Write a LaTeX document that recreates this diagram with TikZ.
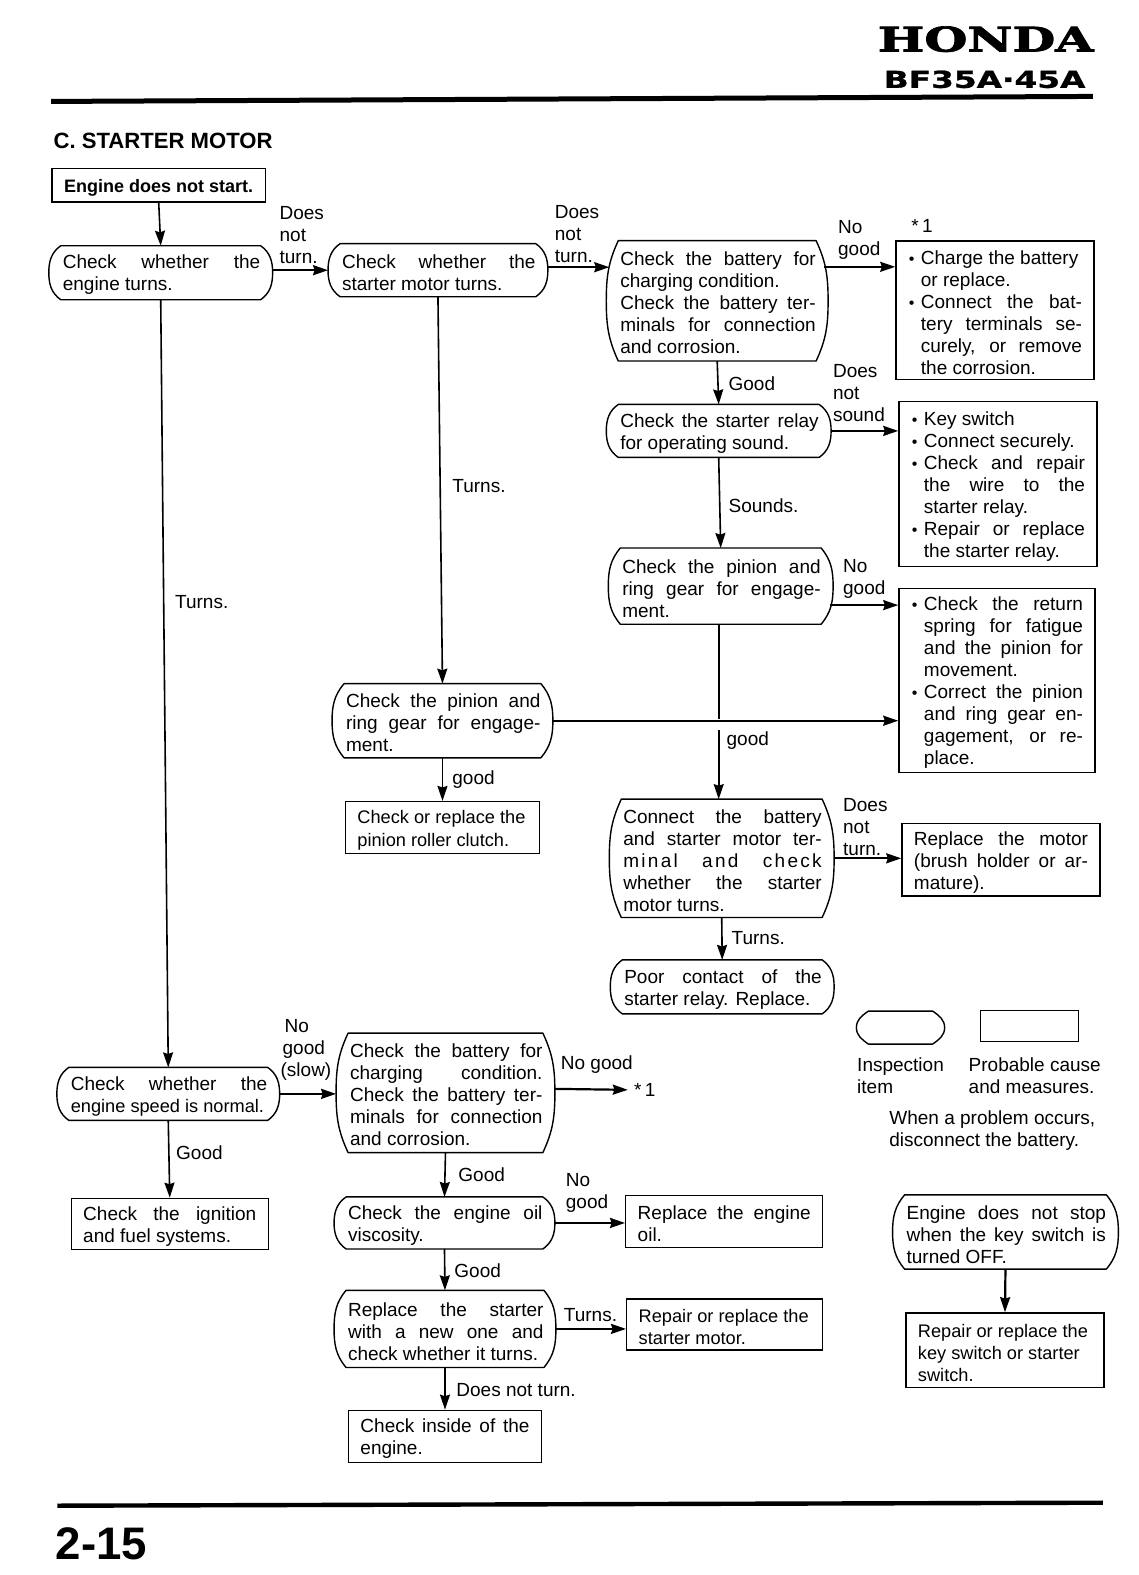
\documentclass[tikz,border=0pt]{standalone}
\usepackage{fontspec}
\setmainfont{Liberation Sans}
\newfontfamily\hondafont[FakeBold=2]{DejaVu Serif}
\newfontfamily\modelfont[FakeBold=1]{DejaVu Sans}
\usetikzlibrary{arrows.meta,calc}
\newcommand{\bulletitem}{\leavevmode\hspace*{-6.5pt}\makebox[6.5pt][l]{\hspace*{0.5pt}{\footnotesize\textbullet}}}
\newcommand{\bulletmargin}{\leftskip=6.5pt\relax}
\newcommand{\tightfont}{\fontsize{9.1pt}{11pt}\selectfont}

\begin{document}
\begin{tikzpicture}[
    x=0.5022pt, y=-0.5022pt,
    >=Stealth,
    bodytext/.style={
        font=\fontsize{9.5pt}{11pt}\selectfont, text=black
    },
    sidetext/.style={
        bodytext, anchor=west, inner sep=0pt, align=left, yshift=-0.5pt
    },
    cause/.style={
        rectangle, draw=black, line width=0.7pt, bodytext,
        align=justify, inner xsep=6pt, inner ysep=1pt,
        execute at begin node={\leavevmode\rule{0pt}{9.2pt}}
    },
    inspect/.style={
        rectangle, bodytext,
        align=justify, inner xsep=6pt, inner ysep=1pt,
        execute at begin node={\leavevmode\rule{0pt}{9.2pt}\leftskip=0.8pt\relax},
        append after command={\pgfextra{\let\LN\tikzlastnode
            \draw[line width=0.7pt, line join=round]
                ($(\LN.north west)+(6pt,0)$) -- ($(\LN.north east)+(-6pt,0)$)
                to[out=-#1, in=90] (\LN.east)
                to[out=-90, in=#1] ($(\LN.south east)+(-6pt,0)$)
                -- ($(\LN.south west)+(6pt,0)$)
                to[out=180-#1, in=-90] (\LN.west)
                to[out=90, in=180+#1] cycle;
        }}
    },
    inspect/.default=65,
    arrowdown/.style={
        -{Stealth[length=7.5pt, width=5pt, inset=0.8pt]}, line width=0.8pt, draw=black
    },
    arrowright/.style={
        -{Stealth[length=7.5pt, width=5pt, inset=0.8pt]}, line width=1.1pt, draw=black
    }
]
\useasboundingbox (0,0) rectangle (1133,1568);

% ==================== HEADER ====================
\node[inner sep=0pt, anchor=east] (brand) at (1089,39) {\scalebox{1.45}[1]{\hondafont\fontsize{17pt}{17pt}\selectfont\bfseries HONDA}};
\node[inner sep=0pt, anchor=east] (model) at (1081,79) {\scalebox{1.4}[1]{\modelfont\fontsize{11.7pt}{12pt}\selectfont\bfseries BF35A·45A}};
\draw[line width=2.5pt] (51,101) -- (1088,96);
\node[inner sep=0pt, anchor=west, font=\fontsize{11.05pt}{13pt}\selectfont\bfseries] (title) at (53,140) {C. STARTER MOTOR};

% ==================== TOP LEFT ====================
\node[cause, align=center, inner xsep=2pt, minimum width=106.5pt, minimum height=16.6pt, font=\fontsize{9pt}{11pt}\selectfont\bfseries] (engine) at (158,184.5) {Engine does not start.};
\node[inspect=35, text width=99.5pt, minimum height=26.6pt] (check1) at (160,271.5) {Check whether the\linebreak engine turns.};
\node[inspect=35, text width=97.5pt, minimum height=26.1pt] (check2) at (436,269) {Check whether the\linebreak starter motor turns.};
\node[inspect=50, text width=98pt, minimum height=36.7pt] (pinionL) at (440.5,717.5) {Check the pinion and\linebreak ring gear for engage-\linebreak ment.};
\node[cause, text width=85pt, minimum height=26.1pt] (clutch) at (440.5,824) {\tightfont Check or replace the\\pinion roller clutch.};

% ==================== MIDDLE COLUMN ====================
\node[inspect, text width=98.5pt, minimum height=59.8pt] (battery) at (714,299.5) {Check the battery for\linebreak charging condition.\\Check the battery ter-\linebreak minals for connection\linebreak and corrosion.};
\node[inspect=35, text width=100pt, minimum height=26.1pt] (relay) at (715.5,429) {Check the starter relay\linebreak for operating sound.};
\node[inspect=50, text width=100pt, minimum height=37.7pt] (pinionR) at (717.5,583.5) {Check the pinion and\linebreak ring gear for engage-\linebreak ment.};
\node[inspect, text width=100pt, minimum height=58.8pt] (connect) at (718.5,854.5) {Connect the battery\linebreak and starter motor ter-\linebreak {\addfontfeatures{LetterSpace=12}minal and check}\linebreak whether the starter\linebreak motor turns.};
\node[inspect=35, text width=99.5pt, minimum height=26.6pt] (poor) at (719,982.5) {Poor contact of the\linebreak starter relay. Replace.};

% ==================== RIGHT COLUMN ====================
\node[cause, text width=87pt, minimum height=69.3pt, execute at begin node=\bulletmargin] (fix1) at (990.5,309) {\bulletitem Charge the battery\\or replace.\\\bulletitem Connect the bat-\linebreak tery terminals se-\linebreak curely, or remove\linebreak the corrosion.};
\node[cause, text width=87pt, minimum height=82.4pt, execute at begin node=\bulletmargin] (fix2) at (993.5,482) {\bulletitem Key switch\\\bulletitem Connect securely.\\\bulletitem Check and repair\linebreak the wire to the\linebreak starter relay.\\\bulletitem Repair or replace\linebreak the starter relay.};
\node[cause, text width=86pt, minimum height=91.9pt, execute at begin node=\bulletmargin] (fix3) at (992.5,677.5) {\bulletitem Check the return\linebreak spring for fatigue\linebreak and the pinion for\linebreak movement.\\\bulletitem Correct the pinion\linebreak and ring gear en-\linebreak gagement, or re-\linebreak place.};
\node[cause, text width=87pt, minimum height=36.2pt] (motor) at (996.5,856) {Replace the motor\linebreak (brush holder or ar-\linebreak mature).};

% ==================== LEGEND ====================
\node[inspect=35, minimum width=43.7pt, minimum height=16.1pt, inner xsep=0pt] (legendA) at (896.5,1023) {};
\node[cause, minimum width=49.2pt, minimum height=15.6pt, inner xsep=0pt] (legendB) at (1025,1021.5) {};
\node[sidetext] (legendAtext) at (853,1070) {Inspection\\item};
\node[sidetext] (legendBtext) at (964,1070) {Probable cause\\and measures.};
\node[sidetext] (warning) at (885,1125) {When a problem occurs,\\disconnect the battery.};

% ==================== LOWER LEFT ====================
\node[inspect=35, text width=99pt, minimum height=26.1pt] (speed) at (167.5,1089) {Check whether the\linebreak \tightfont engine speed is normal.};
\node[cause, text width=86.5pt, minimum height=25.6pt] (ignition) at (169,1218.5) {Check the ignition\linebreak and fuel systems.};
\node[inspect, text width=97pt, minimum height=59.3pt] (battery2) at (443.5,1088) {Check the battery for\linebreak charging condition.\linebreak Check the battery ter-\linebreak minals for connection\linebreak and corrosion.};
\node[inspect=35, text width=98pt, minimum height=25.6pt] (oil) at (442.5,1217.5) {Check the engine oil\linebreak viscosity.};
\node[inspect=50, text width=98.5pt, minimum height=38.2pt] (starter) at (443,1323) {Replace the starter\linebreak with a new one and\linebreak check whether it turns.};
\node[cause, text width=84.5pt, minimum height=26.1pt] (inside) at (443,1430) {Check inside of the\linebreak engine.};
\node[cause, text width=86.5pt, minimum height=26.1pt] (replaceoil) at (721,1216) {Replace the engine\linebreak oil.};
\node[cause, text width=86pt, minimum height=25.6pt] (repair) at (721.5,1318.5) {\tightfont Repair or replace the\\starter motor.};
\node[inspect=50, text width=100.5pt, minimum height=36.7pt] (notstop) at (1001,1226.5) {Engine does not stop\linebreak when the key switch is\linebreak turned OFF.};
\node[cause, text width=87pt, minimum height=37.2pt] (keysw) at (1000.5,1344) {\tightfont Repair or replace the\\key switch or starter\\switch.};
\node[sidetext] (star1) at (631,1084) {*\,1};

% ==================== CONNECTOR LABELS ====================
\node[sidetext] (lab1) at (278,233) {Does\\not\\turn.};
\node[sidetext] (lab2) at (552,232) {Does\\not\\turn.};
\node[sidetext] (lab3) at (174,598) {Turns.};
\node[sidetext] (lab4) at (450,483) {Turns.};
\node[sidetext] (lab5) at (834,238) {No\\good};
\node[sidetext] (lab6) at (907,224) {*\,1};
\node[sidetext] (lab7) at (725,381) {Good};
\node[sidetext] (lab8) at (829,390) {Does\\not\\sound};
\node[sidetext] (lab9) at (725,502) {Sounds.};
\node[sidetext] (lab10) at (839,575) {No\\good};
\node[sidetext] (lab11) at (723,736) {good};
\node[sidetext] (lab12) at (450,775) {good};
\node[sidetext] (lab13) at (839,822) {Does\\not\\turn.};
\node[sidetext] (lab14) at (728,933) {Turns.};
\node[sidetext] (lab15) at (279,1044) {\hspace{2pt}No\\\hspace{1pt}good\\(slow)};
\node[sidetext] (lab16) at (558,1059) {No good};
\node[sidetext] (lab17) at (175,1147) {Good};
\node[sidetext] (lab18) at (456,1168) {Good};
\node[sidetext] (lab19) at (563,1187) {No\\good};
\node[sidetext] (lab20) at (452,1264) {Good};
\node[sidetext] (lab21) at (561,1308) {Turns.};
\node[sidetext] (lab22) at (454,1383) {Does not turn.};

% ==================== FOOTER ====================
\draw[line width=2.2pt] (57,1499) -- (1098,1496);
\node[inner sep=0pt, anchor=west, font=\fontsize{22.8pt}{24pt}\selectfont\bfseries] (page) at (55,1537) {2-15};

% ==================== CONNECTING ARROWS ====================
\draw[arrowdown] (engine.south) -- (check1.north);
\draw[arrowdown] (check1.south) -- (speed.north);
\draw[arrowright] (check2.west -| check1.east) -- (check2.west);
\draw[arrowdown] (check2.south) -- (pinionL.north);
\draw[arrowright] ([yshift=1.5pt]check2.east) -- ([xshift=1.5pt,yshift=1.5pt]check2.east -| battery.west);
\draw[arrowdown] ([xshift=-2pt,yshift=17pt]battery.east) -- ([yshift=17pt]battery.east -| fix1.west);
\draw[arrowdown] (battery.south) -- (relay.north);
\draw[arrowright] (relay.east) -- (relay.east -| fix2.west);
\draw[arrowdown] (relay.south) -- (pinionR.north);
\draw[arrowright] ([xshift=-1.5pt,yshift=-9.5pt]pinionR.east) -- ([yshift=-9.5pt]pinionR.east -| fix3.west);
\coordinate (gapA) at (715.5,716);
\coordinate (gapB) at (715.5,727);
\draw[line width=0.8pt] (gapA |- pinionR.south) -- (gapA);
\draw[arrowdown] (gapB) -- (gapB |- connect.north);
\draw[arrowright] (pinionL.east) -- (pinionL.east -| fix3.west);
\draw[arrowdown] (pinionL.south) -- (clutch.north);
\draw[arrowright] (connect.east) -- (connect.east -| motor.west);
\draw[arrowdown] (connect.south) -- (poor.north);
\draw[arrowright] (speed.east) -- (speed.east -| battery2.west);
\draw[arrowdown] (speed.south) -- (ignition.north);
\draw[arrowright] ([yshift=2pt]battery2.east) -- ([xshift=-3pt]star1.west);
\draw[arrowdown] (battery2.south) -- (oil.north);
\draw[arrowright] (oil.east) -- (oil.east -| replaceoil.west);
\draw[arrowdown] (oil.south) -- (starter.north);
\draw[arrowright] (starter.east) -- (starter.east -| repair.west);
\draw[arrowdown] (starter.south) -- (inside.north);
\draw[arrowright] (notstop.south) -- (keysw.north);

\end{tikzpicture}
\end{document}
